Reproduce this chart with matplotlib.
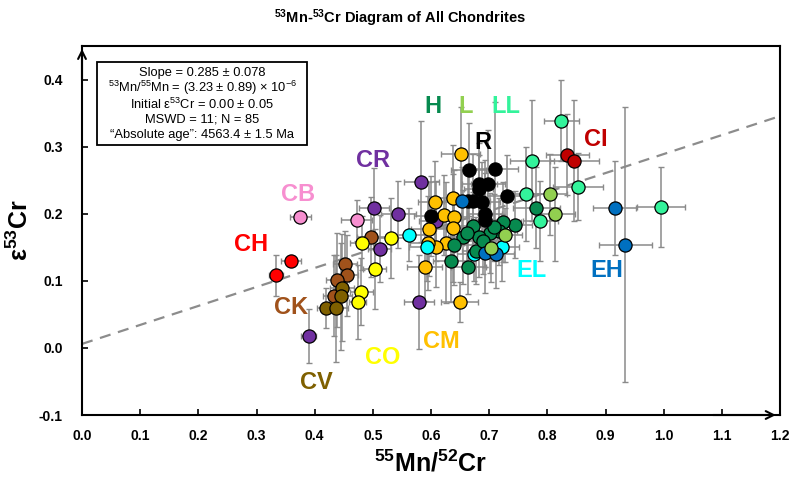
import matplotlib
matplotlib.use("Agg")
import matplotlib.pyplot as plt
from matplotlib.patches import Rectangle

plt.rcParams['font.family'] = ['Liberation Sans', 'DejaVu Sans']
plt.rcParams['mathtext.fontset'] = 'custom'
plt.rcParams['mathtext.rm'] = 'Liberation Sans'
plt.rcParams['mathtext.it'] = 'Liberation Sans:italic'
plt.rcParams['mathtext.bf'] = 'Liberation Sans:bold'

# data: x = 55Mn/52Cr, y = e53Cr, with 2 sigma errors
CI_x = [0.834, 0.846]
CI_y = [0.288, 0.279]
CI_xe = [0.037, 0.042]
CI_ye = [0.06, 0.09]

LL_x = [0.824, 0.774, 0.764, 0.853, 0.788, 0.995]
LL_y = [0.339, 0.279, 0.229, 0.240, 0.189, 0.210]
LL_xe = [0.03, 0.038, 0.04, 0.043, 0.03, 0.041]
LL_ye = [0.06, 0.09, 0.07, 0.05, 0.06, 0.06]

L_x = [0.804, 0.813, 0.727, 0.703]
L_y = [0.229, 0.199, 0.168, 0.149]
L_xe = [0.03, 0.035, 0.03, 0.03]
L_ye = [0.06, 0.07, 0.04, 0.05]

H_x = [0.781, 0.744, 0.724, 0.672, 0.717, 0.702, 0.683, 0.655, 0.640, 0.678, 0.634, 0.664, 0.690, 0.662, 0.708]
H_y = [0.209, 0.184, 0.188, 0.182, 0.174, 0.171, 0.165, 0.166, 0.154, 0.145, 0.129, 0.121, 0.160, 0.172, 0.180]
H_xe = [0.04, 0.03, 0.03, 0.025, 0.03, 0.03, 0.03, 0.025, 0.03, 0.025, 0.03, 0.03, 0.03, 0.03, 0.03]
H_ye = [0.06, 0.05, 0.06, 0.05, 0.05, 0.06, 0.06, 0.07, 0.06, 0.05, 0.06, 0.04, 0.05, 0.05, 0.05]

R_x = [0.665, 0.710, 0.683, 0.698, 0.682, 0.731, 0.672, 0.688, 0.663, 0.692, 0.693, 0.600]
R_y = [0.266, 0.267, 0.245, 0.245, 0.237, 0.227, 0.219, 0.217, 0.219, 0.200, 0.191, 0.197]
R_xe = [0.03, 0.04, 0.03, 0.03, 0.025, 0.035, 0.03, 0.03, 0.03, 0.03, 0.025, 0.03]
R_ye = [0.07, 0.1, 0.06, 0.08, 0.05, 0.06, 0.07, 0.06, 0.05, 0.08, 0.07, 0.06]

EH_x = [0.653, 0.693, 0.712, 0.916, 0.934]
EH_y = [0.219, 0.142, 0.140, 0.209, 0.154]
EH_xe = [0.03, 0.03, 0.03, 0.037, 0.046]
EH_ye = [0.05, 0.06, 0.05, 0.07, 0.205]

EL_x = [0.563, 0.593, 0.722, 0.674]
EL_y = [0.169, 0.150, 0.150, 0.140]
EL_xe = [0.03, 0.03, 0.03, 0.03]
EL_ye = [0.04, 0.05, 0.05, 0.04]

CM_x = [0.651, 0.607, 0.637, 0.622, 0.640, 0.638, 0.596, 0.626, 0.609, 0.594, 0.589, 0.649]
CM_y = [0.289, 0.218, 0.223, 0.198, 0.195, 0.179, 0.177, 0.157, 0.151, 0.156, 0.120, 0.069]
CM_xe = [0.033, 0.03, 0.03, 0.03, 0.025, 0.03, 0.03, 0.03, 0.025, 0.03, 0.03, 0.032]
CM_ye = [0.07, 0.06, 0.08, 0.06, 0.07, 0.08, 0.07, 0.09, 0.06, 0.07, 0.05, 0.03]

CO_x = [0.481, 0.532, 0.503, 0.480, 0.474]
CO_y = [0.156, 0.164, 0.118, 0.084, 0.068]
CO_xe = [0.02, 0.025, 0.02, 0.02, 0.015]
CO_ye = [0.04, 0.06, 0.06, 0.05, 0.055]

CR_x = [0.502, 0.544, 0.512, 0.583, 0.579, 0.609, 0.390]
CR_y = [0.208, 0.199, 0.148, 0.248, 0.069, 0.189, 0.018]
CR_xe = [0.026, 0.03, 0.02, 0.03, 0.026, 0.03, 0.013]
CR_ye = [0.06, 0.05, 0.05, 0.09, 0.07, 0.06, 0.04]

CB_x = [0.375, 0.472]
CB_y = [0.195, 0.190]
CB_xe = [0.018, 0.026]
CB_ye = [0.0, 0.03]

CH_x = [0.359, 0.333]
CH_y = [0.130, 0.108]
CH_xe = [0.017, 0.012]
CH_ye = [0.0, 0.03]

CK_x = [0.452, 0.455, 0.439, 0.433, 0.497]
CK_y = [0.125, 0.108, 0.101, 0.078, 0.165]
CK_xe = [0.02, 0.02, 0.02, 0.018, 0.025]
CK_ye = [0.05, 0.06, 0.07, 0.06, 0.06]

CV_x = [0.447, 0.445, 0.419, 0.437]
CV_y = [0.090, 0.077, 0.059, 0.059]
CV_xe = [0.02, 0.02, 0.015, 0.02]
CV_ye = [0.08, 0.08, 0.03, 0.08]

slope = 0.283
intercept = 0.006

# group name, label position
labels = ['H', 'L', 'LL', 'R', 'CI', 'CR', 'CB', 'CH', 'CK', 'CV', 'CO', 'CM', 'EL', 'EH']
label_x = [0.603, 0.660, 0.729, 0.690, 0.884, 0.500, 0.371, 0.290, 0.359, 0.403, 0.517, 0.617, 0.772, 0.902]
label_y = [0.360, 0.360, 0.360, 0.306, 0.310, 0.280, 0.228, 0.154, 0.060, -0.052, -0.015, 0.009, 0.115, 0.115]

colours = {'H': '#078a4f', 'L': '#92d050', 'LL': '#33f39b', 'R': '#000000', 'CI': '#c00000',
           'CR': '#7030a0', 'CB': '#f78fd0', 'CH': '#ff0000', 'CK': '#a0521b', 'CV': '#7f6000',
           'CO': '#ffff00', 'CM': '#ffc000', 'EL': '#00ffff', 'EH': '#0070c0'}

series = [('CB', CB_x, CB_y, CB_xe, CB_ye), ('CH', CH_x, CH_y, CH_xe, CH_ye),
          ('CK', CK_x, CK_y, CK_xe, CK_ye), ('CV', CV_x, CV_y, CV_xe, CV_ye),
          ('CO', CO_x, CO_y, CO_xe, CO_ye), ('CR', CR_x, CR_y, CR_xe, CR_ye),
          ('CM', CM_x, CM_y, CM_xe, CM_ye), ('EL', EL_x, EL_y, EL_xe, EL_ye),
          ('H', H_x, H_y, H_xe, H_ye), ('R', R_x, R_y, R_xe, R_ye),
          ('EH', EH_x, EH_y, EH_xe, EH_ye), ('L', L_x, L_y, L_xe, L_ye),
          ('LL', LL_x, LL_y, LL_xe, LL_ye), ('CI', CI_x, CI_y, CI_xe, CI_ye)]

fig = plt.figure(figsize=(8, 4.8), dpi=100)
ax = fig.add_axes([0.1025, 0.1354, 0.8725, 0.7686])

ax.plot([0, 1.2], [intercept, intercept + slope * 1.2], color='#8c8c8c', lw=1.6,
        dashes=(5, 3.5), zorder=1)

for name, xs, ys, xe, ye in series:
    ax.errorbar(xs, ys, xerr=xe, yerr=ye, fmt='none', ecolor='#8a8a8a',
                elinewidth=1.1, capsize=2.5, capthick=1.0, zorder=2)
for name, xs, ys, xe, ye in series:
    ax.scatter(xs, ys, s=90, c=colours[name], edgecolors='black', linewidths=0.9, zorder=3)

for name, lx, ly in zip(labels, label_x, label_y):
    ax.text(lx, ly, name, color=colours[name], fontsize=17, fontweight='bold',
            ha='center', va='center', zorder=4)

ax.set_xlim(0, 1.2)
ax.set_ylim(-0.1, 0.45)
ax.set_xticks([i / 10 for i in range(13)])
ax.set_yticks([-0.1, 0.0, 0.1, 0.2, 0.3, 0.4])
ax.set_xticklabels(['%.1f' % (i / 10) for i in range(13)])
ax.set_yticklabels(['-0.1', '0.0', '0.1', '0.2', '0.3', '0.4'])
ax.tick_params(direction='in', length=4, width=1.2, top=False, right=False, labelsize=10)
ax.tick_params(axis='x', pad=10)
ax.tick_params(axis='y', pad=14)
for lab in ax.get_xticklabels() + ax.get_yticklabels():
    lab.set_fontweight('bold')
    lab.set_family(['Liberation Sans Narrow', 'Liberation Sans'])
for s in ax.spines.values():
    s.set_linewidth(1.5)

# arrows on the axes
ax.annotate('', xy=(0, 1.0), xytext=(0, 0.9), xycoords='axes fraction',
            arrowprops=dict(arrowstyle='->', lw=1.5, mutation_scale=14), zorder=5)
ax.annotate('', xy=(0.998, 0), xytext=(0.9, 0), xycoords='axes fraction',
            arrowprops=dict(arrowstyle='->', lw=1.5, mutation_scale=14), zorder=5)

ax.set_xlabel(r'$\mathbf{^{55}Mn/^{52}Cr}$', fontsize=18, labelpad=5)
ax.set_ylabel(r'$\mathbf{\varepsilon^{53}Cr}$', fontsize=18, labelpad=4)

# statistics box
ax.add_patch(Rectangle((0.0215, 0.7317), 0.3008, 0.2249, transform=ax.transAxes,
                       facecolor='white', edgecolor='black', lw=1.3, zorder=6))
box_lines = ['Slope = 0.285 ± 0.078',
             '$^{53}$Mn/$^{55}$Mn = (3.23 ± 0.89) × 10$^{-6}$',
             'Initial ε$^{53}$Cr = 0.00 ± 0.05',
             'MSWD = 11; N = 85',
             '“Absolute age”: 4563.4 ± 1.5 Ma']
for i, line in enumerate(box_lines):
    ax.text(0.172, 0.928 - i * 0.0425, line, transform=ax.transAxes, ha='center',
            va='center', fontsize=9.3, zorder=7)

fig.text(0.5, 0.962, r'$\mathbf{^{53}Mn}$-$\mathbf{^{53}Cr}$ Diagram of All Chondrites',
         ha='center', va='center', fontsize=10.5, fontweight='bold')

fig.savefig('out.png', dpi=100)
